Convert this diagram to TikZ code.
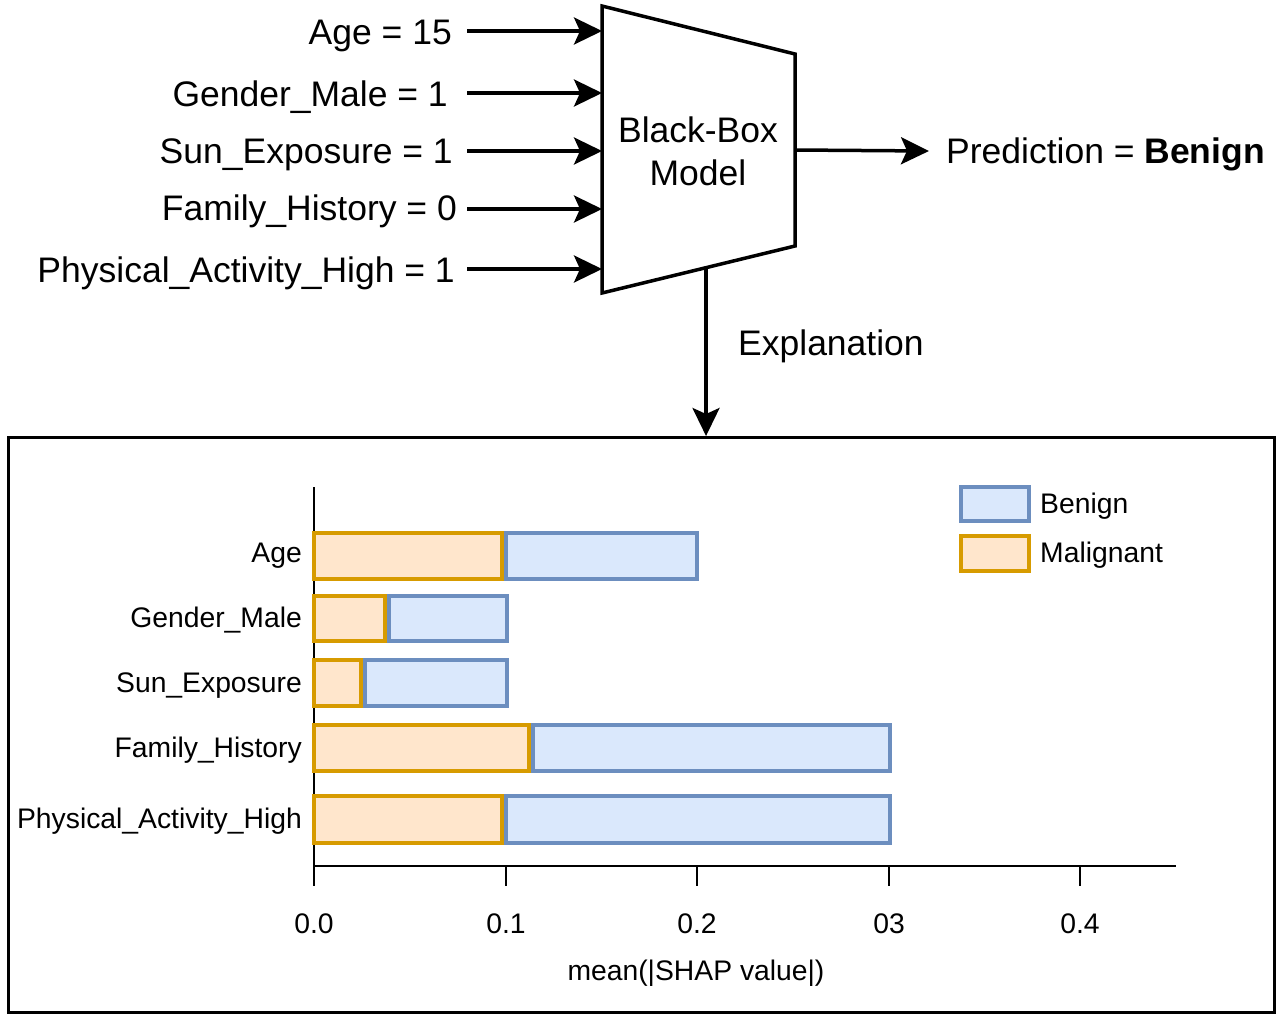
\documentclass[tikz,border=0pt]{standalone}
\usepackage{fontspec}
\setmainfont{Liberation Sans}
\usetikzlibrary{arrows.meta}
\definecolor{bfill}{HTML}{DAE8FC}
\definecolor{bdraw}{HTML}{6C8EBF}
\definecolor{mfill}{HTML}{FFE6CC}
\definecolor{mdraw}{HTML}{D79B00}
\begin{document}
\begin{tikzpicture}[x=1pt,y=-1pt,
  big/.style={font=\fontsize{35.5}{40}\selectfont, inner sep=0pt},
  small/.style={font=\fontsize{28.3}{32}\selectfont, inner sep=0pt},
  arr/.style={line width=3.5pt, -{Stealth[length=28pt,width=27pt,inset=6pt]}},
  benbar/.style={fill=bfill,draw=bdraw,line width=4pt},
  malbar/.style={fill=mfill,draw=mdraw,line width=4pt},
  axisline/.style={line width=2pt},
]
\useasboundingbox (0,0) rectangle (1280,1018);
% trapezoid model
\coordinate (tl) at (602,6);
\coordinate (tr) at (795,54);
\coordinate (br) at (795,246);
\coordinate (bl) at (602,293);
\draw[line width=3.5pt,line join=miter,fill=white] (tl) -- (tr) -- (br) -- (bl) -- cycle;
\node[big,anchor=base] (model1) at (698,142) {Black-Box};
\node[big,anchor=base] (model2) at (698,185) {Model};
% inputs
\node[big,anchor=base east] (l1) at (452,44) {Age = 15};
\node[big,anchor=base east] (l2) at (448,106) {Gender\_Male = 1};
\node[big,anchor=base east] (l3) at (453,163) {Sun\_Exposure = 1};
\node[big,anchor=base east] (l4) at (457,220) {Family\_History = 0};
\node[big,anchor=base east] (l5) at (455,282) {Physical\_Activity\_High = 1};
\foreach \i/\y in {1/31,2/93,3/151,4/209,5/269}{
  \coordinate (s\i) at (467,\y);
  \coordinate (e\i) at (602,\y);
  \draw[arr] (s\i) -- (e\i);
}
% output
\coordinate (mr) at (795,150);
\node[big,anchor=base west] (pred) at (946,163) {Prediction = \textbf{Benign}};
\coordinate (predin) at (929,151);
\draw[arr] (mr) -- (predin);
% explanation
\path (bl) -- (br) coordinate[pos=0.539] (mb);
\node[draw,line width=3.2pt,inner sep=0pt,minimum width=1266pt,minimum height=575pt,anchor=north west] (chart) at (7,436) {};
\draw[arr] (mb) -- (mb |- chart.north);
\node[big,anchor=base west] (expl) at (738,355) {Explanation};
% axes
\draw[axisline] (314,487) -- (314,868);
\draw[axisline] (313,866) -- (1176,866);
\foreach \x/\t in {314/0.0,506/0.1,697/0.2,889/03,1080/0.4}{
  \draw[axisline] (\x,866) -- (\x,886);
  \node[small,anchor=base] at (\x,933) {\t};
}
\node[small,anchor=base] (xlab) at (696,980) {mean(|SHAP value|)};
% bars
\foreach \yt/\yb/\m/\b/\lab/\base in {
  533/579/502/697/Age/562,
  595.5/641/385/507/Gender\_Male/627,
  659.5/706/361/507/Sun\_Exposure/692,
  724.5/771/529/890/Family\_History/757,
  796/842.5/502/890/Physical\_Activity\_High/828.5}{
  \draw[malbar] (314,\yt) rectangle (\m,\yb);
  \draw[benbar] (\m+4,\yt) rectangle (\b,\yb);
  \node[small,anchor=base east] at (302,\base) {\lab};
}
% legend
\draw[benbar] (961,486.5) rectangle (1028.5,521);
\node[small,anchor=base west] (lgb) at (1040,513) {Benign};
\draw[malbar] (961,536) rectangle (1028.5,571);
\node[small,anchor=base west] (lgm) at (1040,562) {Malignant};
\end{tikzpicture}
\end{document}
